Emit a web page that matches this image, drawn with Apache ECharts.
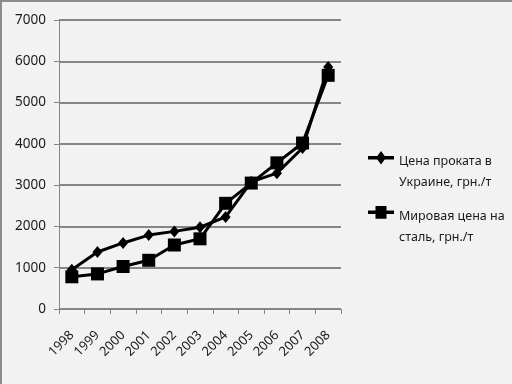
<!DOCTYPE html>
<html><head><meta charset="utf-8">
<script src="https://cdn.jsdelivr.net/npm/echarts@6/dist/echarts.min.js"></script>
<style>html,body{margin:0;padding:0;background:#f2f2f2}#c{width:512px;height:384px}</style>
</head><body><div id="c"></div>
<script>
const years = ['1998','1999','2000','2001','2002','2003','2004','2005','2006','2007','2008'];
const ukrainePrice = [950, 1380, 1600, 1790, 1880, 1980, 2230, 3080, 3290, 3900, 5860];
const worldPrice = [780, 850, 1030, 1180, 1550, 1700, 2560, 3050, 3540, 4020, 5660];
const yTicks = {min: 0, max: 7000, interval: 1000};
const seriesNames = ['Цена проката в\nУкраине, грн./т', 'Мировая цена на\nсталь, грн./т'];

// legend icons: line + marker drawn at the first text line (box 26 x 42)
const iconDiamond = 'path://M0 9.5H26V12.5H0Z M13 5L18 11L13 17L8 11Z M0 42L0.01 42';
const iconSquare = 'path://M0 9.5H26V12.5H0Z M7.5 5.5H18.5V16.5H7.5Z M0 42L0.01 42';

const chart = echarts.init(document.getElementById('c'), null, {renderer: 'canvas'});
const font = '"Noto Sans", sans-serif';
chart.setOption({
  backgroundColor: '#f2f2f2',
  animation: false,
  graphic: [
    {type: 'rect', shape: {x: 0, y: 0, width: 512, height: 2}, style: {fill: '#8c8c8c'}},
    {type: 'rect', shape: {x: 0, y: 0, width: 2, height: 384}, style: {fill: '#8c8c8c'}}
  ],
  grid: {left: 59, right: 171, top: 20, bottom: 75},
  legend: {
    orient: 'vertical', left: 363, top: 146, itemWidth: 26, itemHeight: 42, itemGap: 13,
    symbolKeepAspect: false,
    textStyle: {fontFamily: font, fontSize: 12.5, color: '#1a1a1a', lineHeight: 21},
    data: [
      {name: seriesNames[0], icon: iconDiamond, itemStyle: {color: '#000', borderWidth: 0}},
      {name: seriesNames[1], icon: iconSquare, itemStyle: {color: '#000', borderWidth: 0}}
    ]
  },
  xAxis: {
    type: 'category', data: years, boundaryGap: true,
    axisLine: {lineStyle: {color: '#868686', width: 1}},
    axisTick: {show: true, length: 5, lineStyle: {color: '#868686'}},
    axisLabel: {rotate: 45, fontFamily: font, fontSize: 13, color: '#1a1a1a', margin: 24}
  },
  yAxis: {
    type: 'value', min: yTicks.min, max: yTicks.max, interval: yTicks.interval,
    axisLine: {show: true, lineStyle: {color: '#868686', width: 1}},
    axisTick: {show: true, length: 5, lineStyle: {color: '#868686'}},
    splitLine: {lineStyle: {color: '#868686', width: 2}},
    axisLabel: {fontFamily: font, fontSize: 13.5, color: '#1a1a1a', margin: 13, formatter: v => String(v)}
  },
  series: [
    {name: seriesNames[0], type: 'line', data: ukrainePrice, symbol: 'diamond', symbolSize: [10, 12],
     lineStyle: {color: '#000', width: 3}, itemStyle: {color: '#000'}, z: 3},
    {name: seriesNames[1], type: 'line', data: worldPrice, symbol: 'rect', symbolSize: 13,
     lineStyle: {color: '#000', width: 3}, itemStyle: {color: '#000'}, z: 2}
  ]
});
</script></body></html>
